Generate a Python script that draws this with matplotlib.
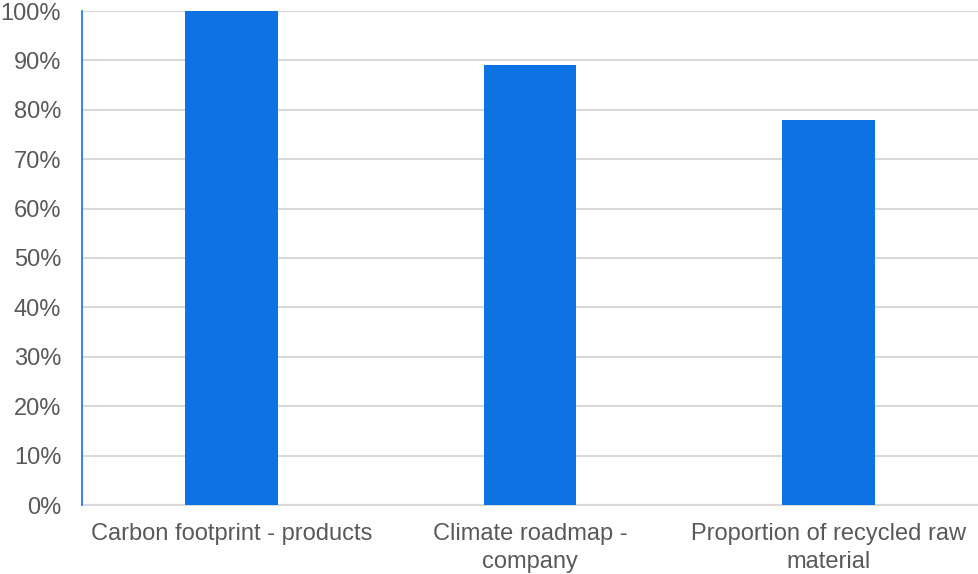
import matplotlib
matplotlib.use("Agg")
import matplotlib.pyplot as plt
from matplotlib.ticker import PercentFormatter

categories = ["Carbon footprint - products", "Climate roadmap -\ncompany", "Proportion of recycled raw\nmaterial"]
values = [100, 89, 78]
y_ticks = [0, 10, 20, 30, 40, 50, 60, 70, 80, 90, 100]

bar_color = "#0D73E3"
grid_color = "#D9D9D9"
text_color = "#595959"

plt.rcParams["font.family"] = ["Liberation Sans", "DejaVu Sans"]

fig = plt.figure(figsize=(9.79, 5.74), dpi=100)
ax = fig.add_axes([82 / 979, 1 - 505 / 574, 896 / 979, 494 / 574])

x = range(len(categories))
ax.bar(x, values, width=0.31, color=bar_color, zorder=3)

ax.set_xlim(-0.5, len(categories) - 0.5)
ax.set_ylim(0, 100)
ax.set_yticks(y_ticks)
ax.yaxis.set_major_formatter(PercentFormatter(decimals=0))
ax.set_xticks(list(x))
ax.set_xticklabels(categories, linespacing=1.35)

ax.yaxis.grid(True, color=grid_color, linewidth=1.5, zorder=0)
ax.tick_params(axis="y", length=0, pad=15, labelsize=17, labelcolor=text_color)
ax.tick_params(axis="x", length=0, pad=13, labelsize=17, labelcolor=text_color)

for side in ["top", "right"]:
    ax.spines[side].set_visible(False)
ax.spines["bottom"].set_color(grid_color)
ax.spines["bottom"].set_linewidth(1.5)
ax.spines["left"].set_color(bar_color)
ax.spines["left"].set_linewidth(1.2)
ax.spines["left"].set_zorder(4)

fig.savefig("out.png", dpi=100, facecolor="white")
